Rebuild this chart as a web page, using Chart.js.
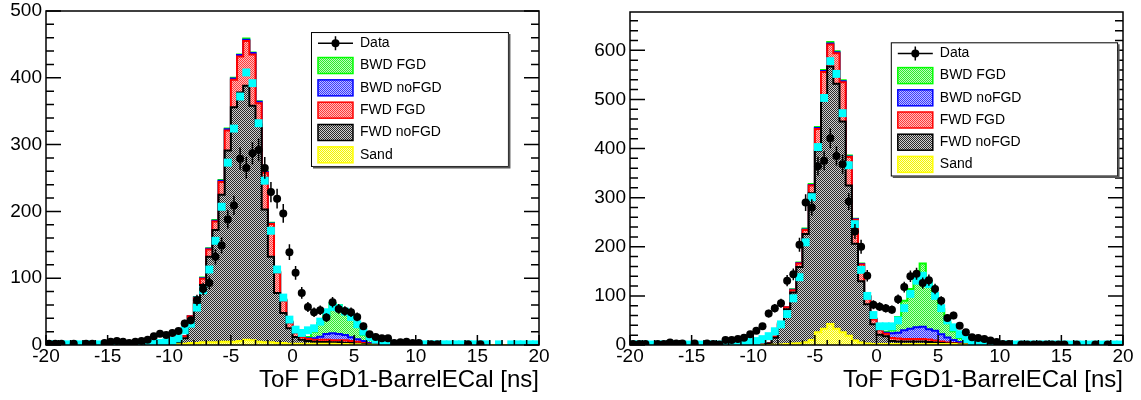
<!DOCTYPE html>
<html>
<head>
<meta charset="utf-8">
<title>ToF FGD1-BarrelECal</title>
<script src="https://cdn.jsdelivr.net/npm/chart.js@4/dist/chart.umd.min.js"></script>
<style>
  html, body { margin: 0; padding: 0; background: #fff; }
  #wrap { position: relative; width: 1141px; height: 400px; }
  .pane { position: absolute; top: 0; height: 400px; }
  #paneLeft { left: 0; width: 570px; }
  #paneRight { left: 584px; width: 557px; }
</style>
</head>
<body>
<div id="wrap">
  <div class="pane" id="paneLeft"><canvas id="tofLeft"></canvas></div>
  <div class="pane" id="paneRight"><canvas id="tofRight"></canvas></div>
</div>
<script>
Chart.defaults.font.family = "'Liberation Sans', Arial, Helvetica, sans-serif";
Chart.defaults.color = '#000';

// binning: 80 bins of 0.5 ns between -20 and 20
var xRange = [-20, 20];
var binWidth = 0.5;
var binCenters = [];
for (var b = xRange[0] + binWidth / 2; b < xRange[1]; b += binWidth) binCenters.push(b);

var xTitle = 'ToF FGD1-BarrelECal [ns]';
var yMaxLeft = 500;
var yMaxRight = 678;
var seriesNames = ['Sand', 'FWD noFGD', 'FWD FGD', 'BWD noFGD', 'BWD FGD']; // stack order, bottom -> top

// ---- left panel ----
var dataLeft = [
  2, 2, 2, null, 2, null, 2, 2, null, 3,
  5, 6, 5, 3, 5, 6, 8, 13, 17, 15,
  18, 21, 32, 37, 67, 84, 93, 132, 149, 188,
  209, 279, 265, 287, 292, 265, 229, 219, 197, 139,
  108, 78, 57, 49, 52, 41, 64, 54, 51, 49,
  42, 28, 16, 12, 10, 10, 3, 4, 5, 3,
  3, null, 1, 1, null, null, null, null, 1, null,
  1, null, null, null, null, null, null, null, null, null
];
var mcLeft = [
  1, 1, 1, 1, 1, 1, 1, 1, 1, 1,
  1, 1, 1, 1, 1, 1, 1.5, 2, 3, 4,
  6, 10, 22, 32, 56, 82, 113, 156, 207, 273,
  324, 372, 408, 392, 332, 246, 171, 113, 71, 38,
  23, 18, 22, 25, 35, 49, 57, 55, 50, 42,
  31, 20, 12, 8, 5, 2.5, 1, 1, 1, 1,
  1, 1, 1, 1, 1, 1, 1, 1, 1, 1,
  1, 1, null, 1, null, 1, 1, 1, 1, 1
];
var sandLeft = [
  0, 0, 0, 0, 0, 0, 0, 0, 0, 0,
  0, 0, 0, 0, 0, 0, 0, 0, 0, 0,
  0.5, 1, 2, 3, 3, 4, 4, 4, 5, 5,
  5, 6, 8, 7, 5, 4, 4, 3, 3, 2,
  2, 2, 2, 2, 2, 2, 2, 1.5, 1.5, 1,
  1, 0.5, 0.5, 0, 0, 0, 0, 0, 0, 0,
  0, 0, 0, 0, 0, 0, 0, 0, 0, 0,
  0, 0, 0, 0, 0, 0, 0, 0, 0, 0
];
var fwdNoFgdLeft = [
  0, 0, 0, 0, 0, 0, 0, 0, 0, 0,
  0, 0, 0, 0, 0, 0, 0, 0, 0, 0.5,
  0.5, 2, 8, 30, 59, 86, 128, 168, 220, 286,
  351, 372, 380, 351, 325, 199, 128, 75, 45, 23,
  10, 6, 4, 3, 2.5, 2.5, 2, 2.5, 2, 2,
  1, 1, 0.5, 0.5, 0, 0, 0, 0, 0, 0,
  0, 0, 0, 0, 0, 0, 0, 0, 0, 0,
  0, 0, 0, 0, 0, 0, 0, 0, 0, 0
];
var fwdFgdLeft = [
  0, 0, 0, 0, 0, 0, 0, 0, 0, 0,
  0, 0, 0, 0, 0, 0, 0, 0, 0, 0,
  0.5, 1, 3, 10, 8, 9, 11, 13, 19, 30,
  41, 54, 67, 77, 32, 55, 49, 30, 18, 8,
  6, 4, 3, 3, 3.5, 3.5, 3, 3, 3.5, 3,
  3, 1.5, 1, 0.5, 0, 0, 0, 0, 0, 0,
  0, 0, 0, 0, 0, 0, 0, 0, 0, 0,
  0, 0, 0, 0, 0, 0, 0, 0, 0, 0
];
var bwdNoFgdLeft = [
  0, 0, 0, 0, 0, 0, 0, 0, 0, 0,
  0, 0, 0, 0, 0, 0, 0, 0, 0, 0,
  0, 0, 0, 0, 1, 1, 1, 1, 2, 2,
  2, 2, 2, 2, 2, 1, 1, 1, 1, 1,
  1, 1, 1, 2, 4.5, 8.5, 10.5, 9.5, 8, 5.5,
  3.5, 3, 1, 0.5, 0, 0, 0, 0, 0, 0,
  0, 0, 0, 0, 0, 0, 0, 0, 0, 0,
  0, 0, 0, 0, 0, 0, 0, 0, 0, 0
];
var bwdFgdLeft = [
  0, 0, 0, 0, 0, 0, 0, 0, 0, 0,
  0, 0, 0, 0, 0, 0, 0, 0, 0, 0,
  0, 0, 0, 0, 1, 1, 1, 1, 1, 1,
  1, 1, 2, 1, 1, 1, 1, 1, 1, 1,
  1, 1, 2, 10, 20.5, 28.5, 44.5, 43.5, 38, 31.5,
  19.5, 9, 5, 2.5, 2, 1, 0, 0, 0, 0,
  0, 0, 0, 0, 0, 0, 0, 0, 0, 0,
  0, 0, 0, 0, 0, 0, 0, 0, 0, 0
];

// ---- right panel ----
var dataRight = [
  2, 2, 2, null, 2, 2, 5, 3, 3, null,
  3, null, 3, 2, 1, 10, 10, 12, 15, 22,
  29, 38, 64, 75, 85, 131, 144, 204, 290, 280,
  364, 375, 421, 385, 368, 292, 231, 200, 141, 82,
  78, 75, 72, 93, 118, 140, 145, 126, 132, 114,
  90, 55, 60, 39, 26, 16, 14, 12, 9, 6,
  2, 2, null, 1, 1, 1, 1, 1, 1, 1,
  1, null, 1, null, null, 1, null, 1, null, null
];
var mcRight = [
  1, 1, 1, 1, 1, 1, 1, 1, 1, 1,
  1, 1, 1, 1, 1, 2, 3, 4, 5, 6,
  8, 12, 18, 28, 42, 63, 95, 138, 209, 301,
  403, 503, 578, 552, 472, 366, 246, 153, 100, 61,
  38, 38, 38, 50, 75, 104, 131, 141, 124, 100,
  75, 50, 36, 22, 12, 5.5, 2, 1, 1, 1,
  1, 1, 1, 1, 1, 1, 1, 1, 1, 1,
  1, 1, 1, 1, 1, 1, 1, 1, 1, 1
];
var sandRight = [
  0, 0, 0, 0, 0, 0, 0, 0, 0, 0,
  0, 0, 0, 0, 0, 0, 0, 0, 0, 0,
  0, 0, 0, 0.5, 1, 2, 3, 3.5, 5.5, 10,
  26, 33, 43, 33, 26, 19, 9, 5, 3, 2,
  2, 2, 2, 2, 2, 2, 2, 2, 2, 2,
  2, 2, 2, 1, 1, 0, 0, 0, 0, 0,
  0, 0, 0, 0, 0, 0, 0, 0, 0, 0,
  0, 0, 0, 0, 0, 0, 0, 0, 0, 0
];
var fwdNoFgdRight = [
  0, 0, 0, 0, 0, 0, 0, 0, 0, 0,
  0, 0, 0, 0, 0, 0, 0, 0, 0, 0,
  0, 0.5, 3, 14.5, 40, 71, 104, 155.5, 220.5, 299,
  370, 475, 524, 499, 429, 306, 197, 125, 80, 40,
  19, 16, 6, 5, 5, 5, 5, 5, 4, 3,
  2, 1, 1, 1, 0, 0, 0, 0, 0, 0,
  0, 0, 0, 0, 0, 0, 0, 0, 0, 0,
  0, 0, 0, 0, 0, 0, 0, 0, 0, 0
];
var fwdFgdRight = [
  0, 0, 0, 0, 0, 0, 0, 0, 0, 0,
  0, 0, 0, 0, 0, 0, 0, 0, 0, 0,
  0, 0, 0.5, 2, 3, 4, 4.5, 7, 8, 16,
  44, 48, 45, 62, 80, 58, 49, 34, 15, 10,
  9, 5, 6, 6, 5, 5, 5, 5, 5, 4,
  3, 2, 1, 1, 0.5, 0, 0, 0, 0, 0,
  0, 0, 0, 0, 0, 0, 0, 0, 0, 0,
  0, 0, 0, 0, 0, 0, 0, 0, 0, 0
];
var bwdNoFgdRight = [
  0, 0, 0, 0, 0, 0, 0, 0, 0, 0,
  0, 0, 0, 0, 0, 0, 0, 0, 0, 0,
  0, 0, 0, 0, 0, 0, 1, 1, 1, 1,
  2, 2, 2, 2, 2, 1, 1, 1, 1, 1,
  1, 2, 10, 12, 18, 21, 24, 25, 21, 20,
  15, 10.5, 6, 3, 1.5, 1.5, 0, 0, 0, 0,
  0, 0, 0, 0, 0, 0, 0, 0, 0, 0,
  0, 0, 0, 0, 0, 0, 0, 0, 0, 0
];
var bwdFgdRight = [
  0, 0, 0, 0, 0, 0, 0, 0, 0, 0,
  0, 0, 0, 0, 0, 0, 0, 0, 0, 0,
  0, 0, 0, 0, 0, 0, 1, 1, 2, 2,
  2, 2, 3, 2, 2, 2, 1, 1, 1, 1,
  2, 2, 6, 32, 60, 81, 95, 129, 99, 76,
  51, 30.5, 18, 8, 3, 1.5, 1.5, 0, 0, 0,
  0, 0, 0, 0, 0, 0, 0, 0, 0, 0,
  0, 0, 0, 0, 0, 0, 0, 0, 0, 0
];

// colours for the stack, same order as seriesNames
var stackStyle = [
  {line: '#ffff00', fg: '#f4f400', bg: '#ffffb8'},
  {line: '#000000', fg: '#2a2a2a', bg: '#cfcfcf'},
  {line: '#ff0000', fg: '#ff3a3a', bg: '#ffbcbc'},
  {line: '#0000ff', fg: '#3a3aff', bg: '#bcbcff'},
  {line: '#00ff00', fg: '#30e830', bg: '#bcffbc'}
];

// root style dotted fill
function dither(ctx, fg, bg) {
  var tile = document.createElement('canvas');
  tile.width = 2; tile.height = 2;
  var t = tile.getContext('2d');
  t.fillStyle = bg; t.fillRect(0, 0, 2, 2);
  t.fillStyle = fg; t.fillRect(0, 0, 1, 1); t.fillRect(1, 1, 1, 1);
  return ctx.createPattern(tile, 'repeat');
}

var errorBars = {
  id: 'errorBars',
  afterDatasetsDraw: function (chart) {
    var ctx = chart.ctx, xs = chart.scales.x, ys = chart.scales.y, a = chart.chartArea;
    chart.data.datasets.forEach(function (ds) {
      if (!ds.errorBars) return;
      ctx.save();
      ctx.strokeStyle = '#000';
      ctx.lineWidth = 1.5;
      ctx.beginPath();
      ds.data.forEach(function (p) {
        if (p.y == null) return;
        var e = Math.sqrt(p.y);
        var px = xs.getPixelForValue(p.x);
        ctx.moveTo(px, Math.min(ys.getPixelForValue(p.y - e), a.bottom));
        ctx.lineTo(px, ys.getPixelForValue(p.y + e));
      });
      ctx.stroke();
      ctx.restore();
    });
  }
};

// frame with inward ticks, like a ROOT canvas
var rootFrame = {
  id: 'rootFrame',
  afterDraw: function (chart) {
    var ctx = chart.ctx, a = chart.chartArea, xs = chart.scales.x, ys = chart.scales.y;
    ctx.save();
    ctx.strokeStyle = '#000';
    ctx.lineWidth = 1.5;
    ctx.strokeRect(a.left, a.top, a.right - a.left, a.bottom - a.top);
    ctx.beginPath();
    for (var v = xs.min; v <= xs.max; v += 1) {
      var len = (v % 5 === 0) ? 10 : 5;
      var px = xs.getPixelForValue(v);
      ctx.moveTo(px, a.bottom);
      ctx.lineTo(px, a.bottom - len);
    }
    for (var w = 0; w <= ys.max; w += 20) {
      var len2 = (w % 100 === 0) ? 15 : 8;
      var py = ys.getPixelForValue(w);
      ctx.moveTo(a.left, py); ctx.lineTo(a.left + len2, py);
      ctx.moveTo(a.right, py); ctx.lineTo(a.right - len2, py);
    }
    ctx.stroke();
    ctx.restore();
  }
};

var rootLegend = {
  id: 'rootLegend',
  afterDraw: function (chart, args, opts) {
    var a = chart.chartArea, ctx = chart.ctx;
    var w = a.right - a.left, h = a.bottom - a.top;
    var x1 = a.left + opts.box[0] * w, y1 = a.top + opts.box[1] * h;
    var x2 = a.left + opts.box[2] * w, y2 = a.top + opts.box[3] * h;
    ctx.save();
    ctx.fillStyle = '#fff';
    ctx.fillRect(x1, y1, x2 - x1, y2 - y1);
    ctx.strokeStyle = '#000';
    ctx.lineWidth = 1;
    ctx.strokeRect(x1 + 0.5, y1 + 0.5, x2 - x1, y2 - y1);
    ctx.strokeStyle = '#555';
    ctx.lineWidth = 2;
    ctx.beginPath();
    ctx.moveTo(x1 + 2, y2 + 1.5); ctx.lineTo(x2 + 1.5, y2 + 1.5); ctx.lineTo(x2 + 1.5, y1 + 2);
    ctx.stroke();

    var rh = (y2 - y1) / opts.items.length;
    ctx.font = '14px ' + Chart.defaults.font.family;
    ctx.textBaseline = 'middle';
    opts.items.forEach(function (it, k) {
      var cy = y1 + rh * (k + 0.5), sx = x1 + 7, sw = 35;
      if (it.marker) {
        ctx.strokeStyle = '#000';
        ctx.lineWidth = 1.5;
        ctx.beginPath();
        ctx.moveTo(sx, cy); ctx.lineTo(sx + sw, cy);
        ctx.moveTo(sx + sw / 2, cy - 7); ctx.lineTo(sx + sw / 2, cy + 7);
        ctx.stroke();
        ctx.fillStyle = '#000';
        ctx.beginPath();
        ctx.arc(sx + sw / 2, cy, 4, 0, Math.PI * 2);
        ctx.fill();
      } else {
        ctx.fillStyle = it.fill;
        ctx.fillRect(sx, cy - 8, sw, 16);
        ctx.strokeStyle = it.line;
        ctx.lineWidth = 1.5;
        ctx.strokeRect(sx, cy - 8, sw, 16);
      }
      ctx.fillStyle = '#000';
      ctx.fillText(it.label, x1 + 49, cy);
    });
    ctx.restore();
  }
};

function buildChart(canvasId, p) {
  var ctx = document.getElementById(canvasId).getContext('2d');
  var stack = [p.sand, p.fwdNoFgd, p.fwdFgd, p.bwdNoFgd, p.bwdFgd];
  var running = binCenters.map(function () { return 0; });
  var datasets = [];
  var legendItems = [];

  stack.forEach(function (vals, k) {
    var st = stackStyle[k];
    running = running.map(function (v, i) { return v + vals[i]; });
    var pts = binCenters.map(function (x, i) { return {x: x, y: running[i]}; });
    var fill = dither(ctx, st.fg, st.bg);
    datasets.push({
      type: 'bar', label: seriesNames[k], data: pts,
      backgroundColor: fill, borderWidth: 0, grouped: false,
      barPercentage: 1, categoryPercentage: 1, order: 2 * k + 3
    });
    datasets.push({
      type: 'line', data: pts, borderColor: st.line, borderWidth: 2,
      stepped: 'middle', pointRadius: 0, fill: false, order: 2 * k + 2
    });
    legendItems.unshift({label: seriesNames[k], fill: fill, line: st.line});
  });
  legendItems.unshift({label: 'Data', marker: true});

  datasets.push({
    type: 'line', label: 'MC',
    data: binCenters.map(function (x, i) { return {x: x, y: p.mc[i]}; }),
    showLine: false, pointStyle: 'rect', pointRadius: 5.6,
    pointBackgroundColor: '#00ffff', pointBorderColor: '#00ffff', pointBorderWidth: 0, order: 1
  });
  datasets.push({
    type: 'line', label: 'Data', errorBars: true,
    data: binCenters.map(function (x, i) { return {x: x, y: p.data[i]}; }),
    showLine: false, pointRadius: 4,
    pointBackgroundColor: '#000', pointBorderWidth: 0, order: 0
  });

  return new Chart(ctx, {
    type: 'bar',
    data: {datasets: datasets},
    options: {
      responsive: true,
      maintainAspectRatio: false,
      animation: false,
      events: [],
      layout: {padding: {top: p.padTop, right: p.padRight, bottom: 0, left: 0}},
      plugins: {
        legend: {display: false},
        tooltip: {enabled: false},
        rootLegend: {box: p.legendBox, items: legendItems}
      },
      scales: {
        x: {
          type: 'linear', min: xRange[0], max: xRange[1], offset: false,
          grid: {display: false, drawTicks: false},
          border: {display: false},
          ticks: {stepSize: 5, autoSkip: false, maxRotation: 0, padding: 0, color: '#000', font: {size: 19}},
          title: {
            display: true, text: xTitle, align: 'end', color: '#000',
            font: {size: 24, lineHeight: 1.2}, padding: {top: 0, bottom: 5}
          },
          afterFit: function (s) { s.height = 55; s.paddingLeft = 0; s.paddingRight = 0; }
        },
        y: {
          min: 0, max: p.yMax,
          grid: {display: false, drawTicks: false},
          border: {display: false},
          ticks: {stepSize: 100, includeBounds: false, padding: 4, color: '#000', font: {size: 19}},
          afterFit: function (s) { s.width = 46; s.paddingTop = 0; s.paddingBottom = 0; }
        }
      }
    },
    plugins: [errorBars, rootFrame, rootLegend]
  });
}

buildChart('tofLeft', {
  data: dataLeft, mc: mcLeft,
  sand: sandLeft, fwdNoFgd: fwdNoFgdLeft, fwdFgd: fwdFgdLeft, bwdNoFgd: bwdNoFgdLeft, bwdFgd: bwdFgdLeft,
  yMax: yMaxLeft, padTop: 11, padRight: 31,
  legendBox: [0.5375, 0.063, 0.937, 0.464]
});

buildChart('tofRight', {
  data: dataRight, mc: mcRight,
  sand: sandRight, fwdNoFgd: fwdNoFgdRight, fwdFgd: fwdFgdRight, bwdNoFgd: bwdNoFgdRight, bwdFgd: bwdFgdRight,
  yMax: yMaxRight, padTop: 12, padRight: 18,
  legendBox: [0.529, 0.091, 0.988, 0.491]
});
</script>
</body>
</html>
